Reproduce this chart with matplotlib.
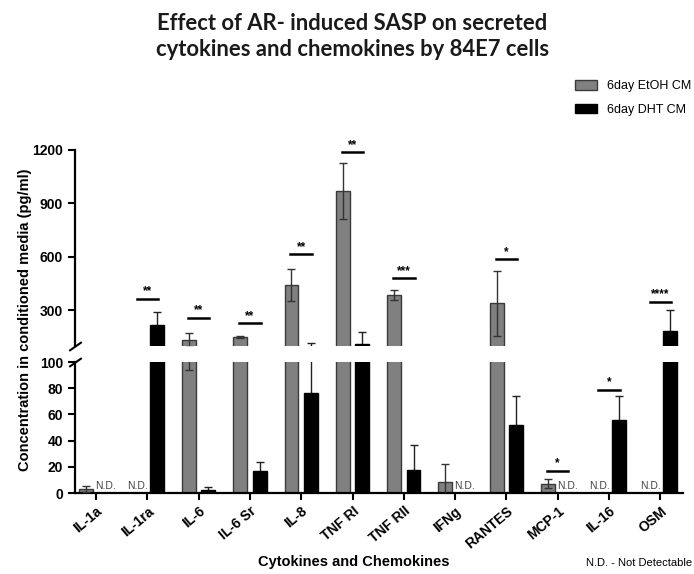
import numpy as np
import matplotlib.pyplot as plt
from matplotlib.patches import Patch

plt.rcParams['font.family'] = ['Liberation Sans', 'DejaVu Sans']

cytokines = ['IL-1a', 'IL-1ra', 'IL-6', 'IL-6 Sr', 'IL-8', 'TNF RI', 'TNF RII',
             'IFNg', 'RANTES', 'MCP-1', 'IL-16', 'OSM']
# nan = not detectable
etoh_mean = [3, np.nan, 134, 150, 440, 968, 385, 8.6, 338, 7, np.nan, np.nan]
etoh_err = [2.5, 0, 40, 5, 90, 155, 28, 13.5, 180, 3.5, 0, 0]
dht_mean = [np.nan, 220, 2.3, 16.5, 76.5, 111, 17.6, np.nan, 52, np.nan, 56, 185]
dht_err = [0, 68, 2.5, 7, 39, 66, 19, 0, 22, 0, 18, 115]

sig_idx = [1, 2, 3, 4, 5, 6, 8, 9, 10, 11]
sig_y = [365, 258, 227, 613, 1184, 479, 585, 17, 79, 348]
sig_stars = ['**', '**', '**', '**', '**', '***', '*', '*', '*', '****']

legend_labels = ['6day EtOH CM', '6day DHT CM']

gray = '#808080'
w = 0.27
off = 0.19
x = np.arange(len(cytokines))

fig = plt.figure(figsize=(6.94, 5.74), dpi=100)
ax_top = fig.add_axes([0.108, 0.3972, 0.876, 0.3423])
ax_bot = fig.add_axes([0.108, 0.1411, 0.876, 0.2282])

e_m = np.array(etoh_mean, dtype=float)
d_m = np.array(dht_mean, dtype=float)
e_ok = ~np.isnan(e_m)
d_ok = ~np.isnan(d_m)

for ax in [ax_top, ax_bot]:
    ax.bar(x[e_ok] - off, e_m[e_ok], w, color=gray, edgecolor='#3a3a3a', lw=1, zorder=2)
    ax.bar(x[d_ok] + off, d_m[d_ok], w, color='black', edgecolor='black', lw=1, zorder=2)
    ax.errorbar(x[e_ok] - off, e_m[e_ok], yerr=np.array(etoh_err)[e_ok], fmt='none',
                ecolor='#333333', elinewidth=1, capsize=3, capthick=1, zorder=3)
    ax.errorbar(x[d_ok] + off, d_m[d_ok], yerr=np.array(dht_err)[d_ok], fmt='none',
                ecolor='#222222', elinewidth=1, capsize=3, capthick=1, zorder=1)
    ax.set_xlim(-0.41, 11.44)
    for s in ['top', 'right']:
        ax.spines[s].set_visible(False)
    ax.spines['left'].set_linewidth(1.6)
    ax.spines['bottom'].set_linewidth(1.6)
    ax.tick_params(axis='both', direction='out', length=5, width=1.5, labelsize=10)

ax_top.set_ylim(100, 1200)
ax_top.set_yticks([300, 600, 900, 1200])
ax_top.spines['bottom'].set_visible(False)
ax_top.tick_params(axis='x', bottom=False, labelbottom=False)

ax_bot.set_ylim(0, 100)
ax_bot.set_yticks([0, 20, 40, 60, 80, 100])
ax_bot.set_xticks(x)
ax_bot.set_xticklabels(cytokines, rotation=40, ha='right', rotation_mode='anchor',
                       fontweight='bold', fontsize=10)
ax_bot.tick_params(axis='x', pad=3)
for ax in [ax_top, ax_bot]:
    for lab in ax.get_yticklabels():
        lab.set_fontweight('bold')

# break marks
kw = dict(marker=[(-1, -0.7), (1, 0.7)], markersize=9, linestyle='none',
          color='k', mec='k', mew=1.5, clip_on=False)
ax_top.plot([0], [0], transform=ax_top.transAxes, **kw)
ax_bot.plot([0], [1], transform=ax_bot.transAxes, **kw)

# N.D. labels
for i in range(len(cytokines)):
    if np.isnan(e_m[i]):
        ax_bot.text(x[i] - off, 1.5, 'N.D.', ha='center', va='bottom', fontsize=7.5, color='#444444')
    if np.isnan(d_m[i]):
        ax_bot.text(x[i] + off, 1.5, 'N.D.', ha='center', va='bottom', fontsize=7.5, color='#444444')

# significance
for i, yv, st in zip(sig_idx, sig_y, sig_stars):
    ax = ax_top if yv > 100 else ax_bot
    ax.plot([x[i] - off - 0.02, x[i] + off + 0.02], [yv, yv], color='black', lw=1.8, zorder=4)
    ax.annotate(st, (x[i], yv), xytext=(0, 1), textcoords='offset points',
                ha='center', va='bottom', fontsize=8.5, fontweight='bold')

fig.text(0.036, 0.4425, 'Concentration in conditioned media (pg/ml)', rotation=90,
         ha='center', va='center', fontsize=10.5, fontweight='bold')
fig.text(0.51, 0.021, 'Cytokines and Chemokines', ha='center', va='center',
         fontsize=10.5, fontweight='bold')
fig.text(0.998, 0.019, 'N.D. - Not Detectable', ha='right', va='center', fontsize=8)

fig.text(0.508, 0.937, 'Effect of AR- induced SASP on secreted\ncytokines and chemokines by 84E7 cells',
         ha='center', va='center', fontsize=15.8, fontweight='bold', family='Lato',
         linespacing=1.3, color='#1a1a1a')

handles = [Patch(facecolor=gray, edgecolor='#3a3a3a'), Patch(facecolor='black', edgecolor='black')]
fig.legend(handles, legend_labels, loc='upper left', bbox_to_anchor=(0.812, 0.88),
           frameon=False, fontsize=9, handlelength=1.75, handleheight=0.8,
           labelspacing=0.9, handletextpad=0.8)

fig.savefig('out.png', dpi=100)
